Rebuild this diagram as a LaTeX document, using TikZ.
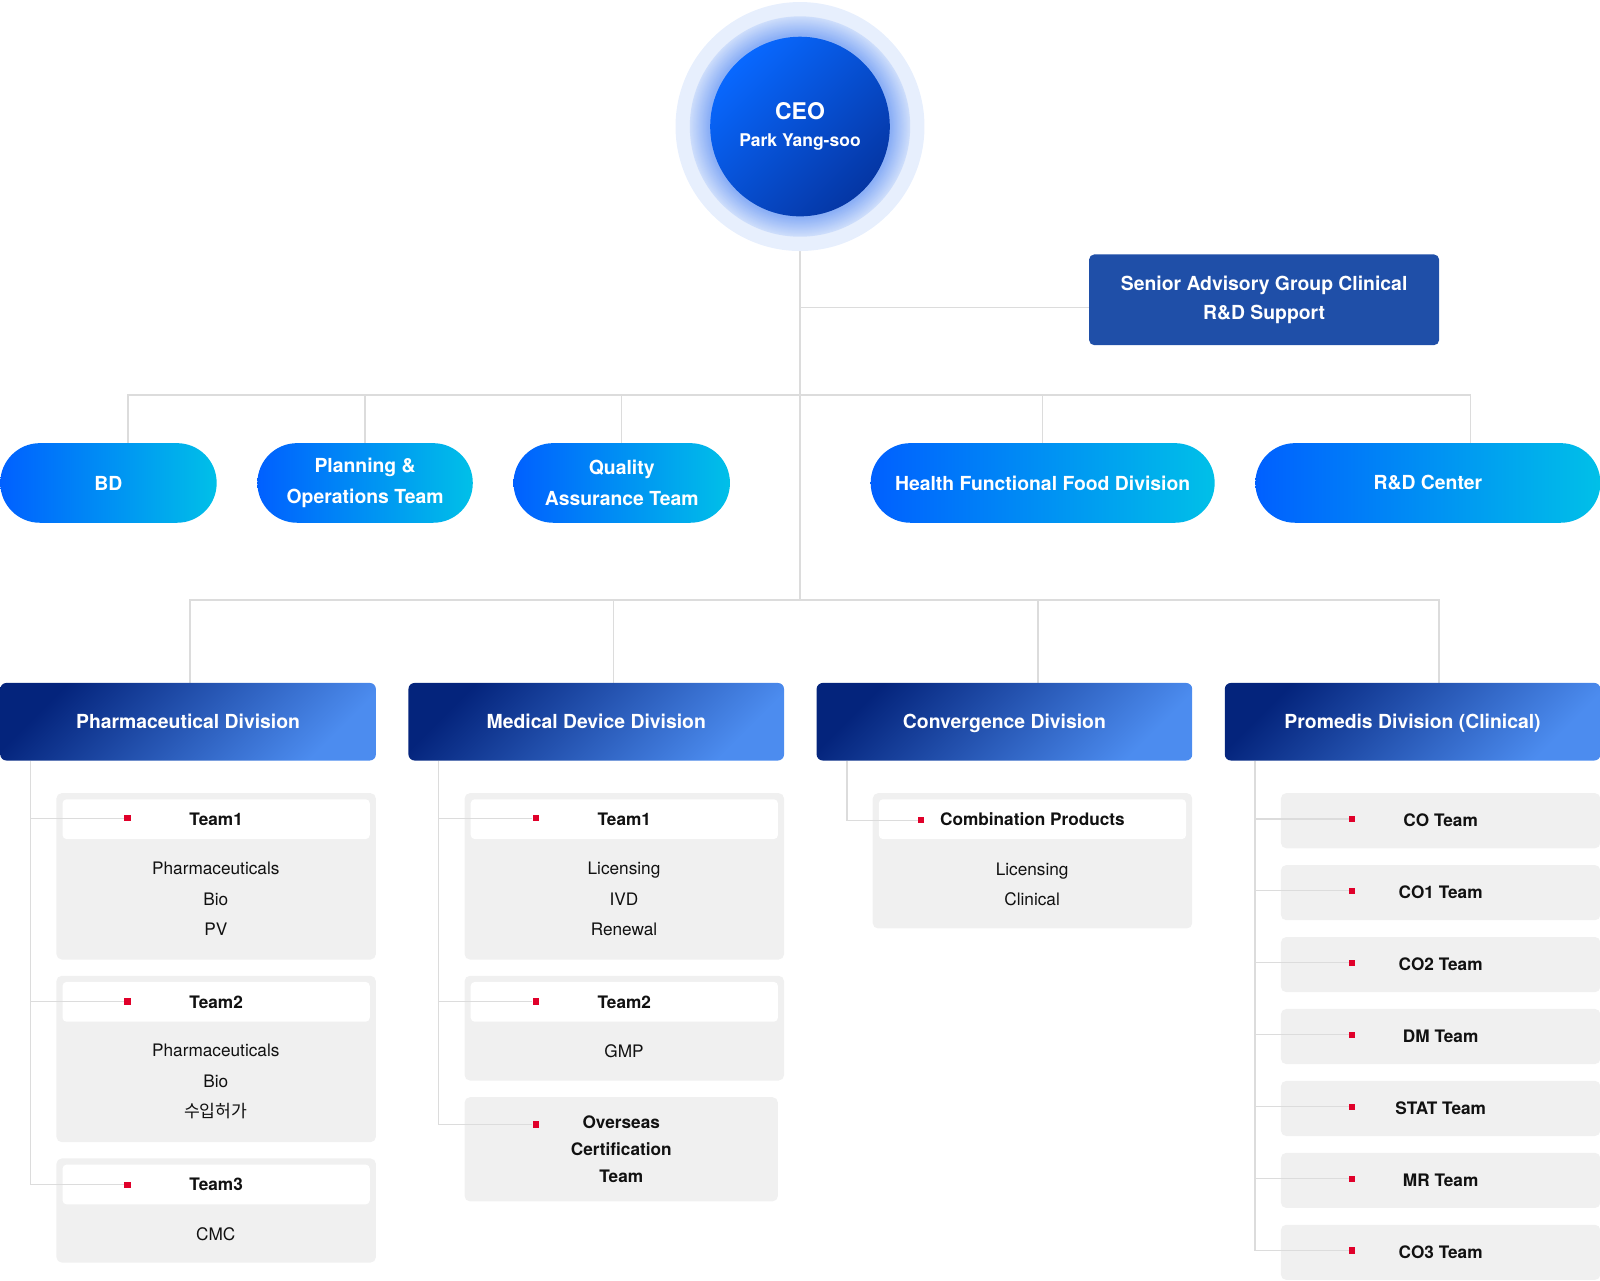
\documentclass[tikz,border=0pt]{standalone}
\usepackage{fontspec}
\setmainfont{TeX Gyre Heros}
\newfontfamily\krfont{Noto Sans CJK KR}
\usepackage{tikz}
\usetikzlibrary{positioning,calc}
\definecolor{pillL}{HTML}{0060FF}
\definecolor{pillR}{HTML}{00C0E8}
\definecolor{divD}{HTML}{04247C}
\definecolor{divL}{HTML}{4C8CEF}
\definecolor{sagblue}{HTML}{1F4FA8}
\definecolor{cardgray}{HTML}{F0F0F0}
\definecolor{linegray}{HTML}{DCDCDC}
\definecolor{dotred}{HTML}{E0002A}
\definecolor{ceoL}{HTML}{0868FF}
\definecolor{ceoD}{HTML}{0536A4}
\definecolor{haloA}{HTML}{8CB0F6}
\definecolor{haloB}{HTML}{CDDDFB}
\definecolor{haloC}{HTML}{E7EFFD}
\definecolor{ink}{HTML}{111111}
\pgfdeclarelayer{back}
\pgfdeclarelayer{wires}
\pgfsetlayers{back,wires,main}

\begin{document}
\begin{tikzpicture}[x=.025cm,y=-.025cm,
  conn/.style={draw=linegray,line width=.9pt},
  pill/.style={anchor=north west,rounded corners=.97cm,left color=pillL,right color=pillR,
    minimum height=1.95cm,inner sep=0pt,align=center,text=white,
    font=\bfseries\fontsize{13.5}{21.3}\selectfont},
  divhead/.style={anchor=north west,rounded corners=.15cm,top color=divD,bottom color=divL,
    shading angle=45,minimum width=9.2cm,minimum height=1.9cm,inner sep=0pt,text=white,
    text height=9.7pt,text depth=0pt,font=\bfseries\fontsize{13.5}{16}\selectfont},
  card/.style={anchor=north west,fill=cardgray,rounded corners=.13cm,minimum width=7.825cm,
    inner sep=0pt,align=center,text=ink,font=\bfseries\fontsize{12}{18.8}\selectfont},
  cardhead/.style={anchor=north west,fill=white,rounded corners=.1cm,minimum width=7.525cm,
    minimum height=.975cm,inner sep=0pt,text=ink,font=\bfseries\fontsize{12}{14}\selectfont},
  items/.style={align=center,text=ink,font=\fontsize{12}{21.3}\selectfont},
  reddot/.style={fill=dotred,minimum size=.15cm,inner sep=0pt}]
\useasboundingbox (0,0) rectangle (1568,1255);

% ceo with halo
\fill[haloC] (784,124) circle (122);
\foreach \k in {0,...,18}{
  \pgfmathsetmacro\p{100*\k/18}
  \fill[haloA!\p!haloB] (784,124) circle (108-\k);
}
\node[circle,minimum size=4.4cm,inner sep=0pt,top color=ceoL,bottom color=ceoD,shading angle=45,
  text=white,align=center,font=\bfseries\fontsize{12.2}{15}\selectfont] (ceo) at (784,124)
  {{\fontsize{16}{16}\selectfont CEO}\\[4pt]Park Yang-soo};
\node[anchor=north west,fill=sagblue,rounded corners=.13cm,minimum width=8.575cm,minimum height=2.225cm,
  align=center,text=white,font=\bfseries\fontsize{13.5}{20.6}\selectfont] (sag) at (1067,249)
  {Senior Advisory Group Clinical\\R\&D Support};

% first row
\node[pill,minimum width=5.3cm] (bd) at (0,434) {BD};
\node[pill,minimum width=5.275cm] (pot) at (252,434) {Planning \&\\Operations Team};
\node[pill,minimum width=5.3cm] (qat) at (503,434) {Quality\\Assurance Team};
\node[pill,minimum width=8.425cm] (hfd) at (853,434) {Health Functional Food Division};
\node[pill,minimum width=8.45cm] (rdc) at (1230,434) {R\&D Center};

% divisions
\node[divhead] (pd) at (0,669) {Pharmaceutical Division};
\node[divhead] (md) at (400,669) {Medical Device Division};
\node[divhead] (cd) at (800,669) {Convergence Division};
\node[divhead] (pr) at (1200,669) {Promedis Division (Clinical)};

\begin{pgfonlayer}{back}
% pharmaceutical teams
\node[card,minimum height=4.075cm] (cpd1) at (55,777) {};
\node[cardhead] (hpd1) at (61,783) {Team1};
\node[items] (ipd1) at (211.5,881) {Pharmaceuticals\\Bio\\PV};
\node[card,minimum height=4.075cm] (cpd2) at (55,956) {};
\node[cardhead] (hpd2) at (61,962) {Team2};
\node[items] (ipd2) at (211.5,1060) {Pharmaceuticals\\Bio\\{\krfont 수입허가}};
\node[card,minimum height=2.55cm] (cpd3) at (55,1135) {};
\node[cardhead] (hpd3) at (61,1141) {Team3};
\node[items] (ipd3) at (211.5,1209.5) {CMC};
% medical device teams
\node[card,minimum height=4.075cm] (cmd1) at (455,777) {};
\node[cardhead] (hmd1) at (461,783) {Team1};
\node[items] (imd1) at (611.5,881) {Licensing\\IVD\\Renewal};
\node[card,minimum height=2.565cm] (cmd2) at (455,956) {};
\node[cardhead] (hmd2) at (461,962) {Team2};
\node[items] (imd2) at (611.5,1030) {GMP};
\node[card,minimum width=7.675cm,minimum height=2.55cm] (cmd3) at (455,1075) {Overseas\\Certification\\Team};
% convergence team
\node[card,minimum height=3.315cm] (ccd1) at (855,777) {};
\node[cardhead] (hcd1) at (861,783) {Combination Products};
\node[items] (icd1) at (1011.5,866.5) {Licensing\\Clinical};
% promedis teams
\foreach \tm [count=\i] in {CO,CO1,CO2,DM,STAT,MR,CO3}
  \node[card,minimum height=1.35cm] (cpr\i) at (1255,706.5+70.5*\i) {\tm\ Team};
\end{pgfonlayer}

% red markers
\foreach \d/\x/\y in {pd1/125/802,pd2/125/981.5,pd3/125/1161,md1/525/802,md2/525/981.5,md3/525/1102,cd1/903/804}
  \node[reddot] (d\d) at (\x,\y) {};
\foreach \i in {1,...,7}
  \node[reddot] (dpr\i) at (1325,732+70.5*\i) {};

\begin{pgfonlayer}{wires}
\coordinate (upbus) at (784,387);
\coordinate (lowbus) at (784,588);
\coordinate (sagjoin) at ($(sag.west)+(0,7.5)$);
\draw[conn] (ceo.center) -- (lowbus);
\draw[conn] (sagjoin -| ceo.center) -- (sagjoin);
\draw[conn] ($(bd.north)+(19,0)$) |- (upbus) -| ($(rdc.north)+(42,0)$);
\foreach \n in {pot,qat,hfd}
  \draw[conn] (\n.north) -- (\n.north |- upbus);
\draw[conn] ($(pd.north)+(2,0)$) |- (lowbus) -| ($(pr.north)+(26,0)$);
\foreach \n/\dx in {md/17,cd/33}
  \draw[conn] ($(\n.north)+(\dx,0)$) -- ++(0,-81);
\foreach \dv/\tm in {pd/pd1,pd/pd2,pd/pd3,md/md1,md/md2,md/md3,cd/cd1,pr/pr1,pr/pr2,pr/pr3,pr/pr4,pr/pr5,pr/pr6,pr/pr7}
  \draw[conn] ($(\dv.south west)+(30,0)$) |- (d\tm);
\end{pgfonlayer}
\end{tikzpicture}
\end{document}
